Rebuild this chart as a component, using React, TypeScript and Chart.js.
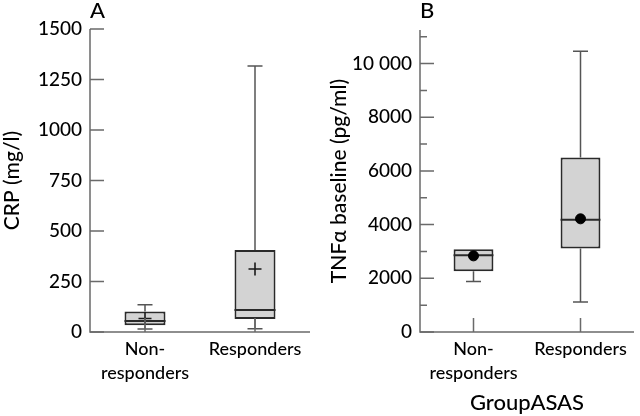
import React, { useEffect, useRef } from 'react';
import { Chart, registerables } from 'chart.js';

Chart.register(...registerables);

const FONT = 'Lato';
const WEIGHT = '500';

const categories = [['Non-', 'responders'], 'Responders'];

// Panel A: CRP (mg/l)
const crpMin = [15, 16];
const crpQ1 = [33, 64];
const crpMedian = [55, 109];
const crpQ3 = [102, 406];
const crpMax = [135, 1317];
const crpMean = [67, 312];
const crpTicks = [0, 250, 500, 750, 1000, 1250, 1500];
const crpMinorTicks: number[] = [];

// Panel B: TNFα baseline (pg/ml)
const tnfMin = [1877, 1119];
const tnfQ1 = [2265, 3109];
const tnfMedian = [2862, 4179];
const tnfQ3 = [3086, 6504];
const tnfMax = [3086, 10460];
const tnfMean = [2836, 4216];
const tnfTicks = [0, 2000, 4000, 6000, 8000, 10000];
const tnfMinorTicks = [1000, 3000, 5000, 7000, 9000, 11000];

type Panel = {
  letter: string;
  min: number[];
  q1: number[];
  median: number[];
  q3: number[];
  max: number[];
  mean: number[];
  ticks: number[];
  minor: number[];
  yMax: number;
  yTitle: string;
  yTitlePad: number;
  xTitle?: string;
  meanStyle: 'cross' | 'circle';
  yWidth: number;
  padTop: number;
  padRight: number;
  fmt: (v: number) => string;
};

const BAR_INDEX = 1;

function decorPlugin(p: Panel) {
  return {
    id: 'boxDecor' + p.letter,
    afterDatasetDraw(chart: any, args: any) {
      if (args.index !== BAR_INDEX) return;
      const { ctx } = chart;
      const xs = chart.scales.x;
      const ys = chart.scales.y;
      const meta = chart.getDatasetMeta(BAR_INDEX);
      ctx.save();
      // whiskers
      ctx.strokeStyle = '#555555';
      ctx.lineWidth = 1.5;
      const cap = 7.5;
      p.min.forEach((_, i) => {
        const cx = xs.getPixelForValue(i);
        const seg = (from: number, to: number) => {
          const a = ys.getPixelForValue(from);
          const b = ys.getPixelForValue(to);
          ctx.beginPath();
          ctx.moveTo(cx, a);
          ctx.lineTo(cx, b);
          ctx.moveTo(cx - cap, b);
          ctx.lineTo(cx + cap, b);
          ctx.stroke();
        };
        if (p.max[i] > p.q3[i]) seg(p.q3[i], p.max[i]);
        if (p.min[i] < p.q1[i]) seg(p.q1[i], p.min[i]);
      });
      // medians
      ctx.strokeStyle = '#2a2a2a';
      ctx.lineWidth = 2;
      p.median.forEach((m, i) => {
        const bar = meta.data[i];
        const y = ys.getPixelForValue(m);
        ctx.beginPath();
        ctx.moveTo(bar.x - bar.width / 2, y);
        ctx.lineTo(bar.x + bar.width / 2, y);
        ctx.stroke();
      });
      ctx.restore();
    },
    afterDatasetsDraw(chart: any) {
      const { ctx, chartArea } = chart;
      const xs = chart.scales.x;
      const ys = chart.scales.y;
      ctx.save();
      ctx.strokeStyle = '#6a6a6a';
      ctx.lineWidth = 1.5;
      const { left, right, top, bottom } = chartArea;
      ctx.beginPath();
      ctx.moveTo(left, top);
      ctx.lineTo(left, bottom);
      ctx.lineTo(right, bottom);
      ctx.stroke();
      ctx.beginPath();
      p.ticks.forEach((v) => {
        const y = ys.getPixelForValue(v);
        ctx.moveTo(left, y);
        ctx.lineTo(left + 14, y);
      });
      p.minor.forEach((v) => {
        const y = ys.getPixelForValue(v);
        ctx.moveTo(left, y);
        ctx.lineTo(left + 7, y);
      });
      p.min.forEach((_, i) => {
        const cx = xs.getPixelForValue(i);
        ctx.moveTo(cx, bottom);
        ctx.lineTo(cx, bottom - 14);
      });
      ctx.stroke();
      ctx.restore();
    },
    afterDraw(chart: any) {
      const { ctx, chartArea } = chart;
      ctx.save();
      ctx.font = `${WEIGHT} 22px ${FONT}`;
      ctx.fillStyle = '#000000';
      ctx.textAlign = 'left';
      ctx.textBaseline = 'alphabetic';
      ctx.fillText(p.letter, chartArea.left, 18);
      ctx.restore();
    },
  };
}

function makeConfig(p: Panel): any {
  const meanDataset: any =
    p.meanStyle === 'cross'
      ? {
          type: 'line',
          data: p.mean,
          showLine: false,
          pointStyle: 'cross',
          pointRadius: 6.5,
          pointHoverRadius: 6.5,
          pointBorderWidth: 1.6,
          pointBorderColor: '#1a1a1a',
          order: 1,
        }
      : {
          type: 'line',
          data: p.mean,
          showLine: false,
          pointStyle: 'circle',
          pointRadius: 5,
          pointHoverRadius: 5,
          pointBorderWidth: 1,
          pointBackgroundColor: '#000000',
          pointBorderColor: '#000000',
          order: 1,
        };
  return {
    type: 'bar',
    data: {
      labels: categories,
      datasets: [
        meanDataset,
        {
          type: 'bar',
          data: p.q1.map((q, i) => [q, p.q3[i]]),
          backgroundColor: '#d3d3d3',
          borderColor: '#2a2a2a',
          borderWidth: 2,
          borderSkipped: false,
          categoryPercentage: 1,
          barPercentage: 41 / 110,
          order: 3,
        },
      ],
    },
    options: {
      responsive: false,
      animation: false,
      events: [],
      layout: { padding: { top: p.padTop, right: p.padRight, left: 0, bottom: 0 } },
      plugins: {
        legend: { display: false },
        tooltip: { enabled: false },
        title: { display: false },
      },
      scales: {
        x: {
          type: 'category',
          offset: true,
          grid: { display: false, drawTicks: false },
          border: { display: false },
          ticks: {
            font: { family: FONT, size: 18, weight: WEIGHT, lineHeight: 1.333 },
            color: '#000000',
            padding: 5,
            maxRotation: 0,
            autoSkip: false,
          },
          title: p.xTitle
            ? {
                display: true,
                text: p.xTitle,
                font: { family: FONT, size: 22, weight: WEIGHT },
                color: '#000000',
                padding: { top: 0, bottom: 0 },
              }
            : { display: false },
          afterFit: (s: any) => {
            s.height = 84;
            s.paddingLeft = 0;
            s.paddingRight = 0;
          },
        },
        y: {
          type: 'linear',
          min: 0,
          max: p.yMax,
          grid: { display: false, drawTicks: false },
          border: { display: false },
          afterBuildTicks: (s: any) => {
            s.ticks = p.ticks.map((v) => ({ value: v }));
          },
          ticks: {
            font: { family: FONT, size: 19, weight: WEIGHT },
            color: '#000000',
            padding: 8,
            callback: (v: any) => p.fmt(Number(v)),
          },
          title: {
            display: true,
            text: p.yTitle,
            font: { family: FONT, size: 21, weight: WEIGHT },
            color: '#000000',
            padding: { top: p.yTitlePad, bottom: 0 },
          },
          afterFit: (s: any) => {
            s.width = p.yWidth;
            s.paddingTop = 0;
            s.paddingBottom = 0;
          },
        },
      },
    },
    plugins: [decorPlugin(p)],
  };
}

const panelA: Panel = {
  letter: 'A',
  min: crpMin,
  q1: crpQ1,
  median: crpMedian,
  q3: crpQ3,
  max: crpMax,
  mean: crpMean,
  ticks: crpTicks,
  minor: crpMinorTicks,
  yMax: 1500,
  yTitle: 'CRP (mg/l)',
  yTitlePad: 0,
  meanStyle: 'cross',
  yWidth: 90,
  padTop: 29,
  padRight: 10,
  fmt: (v) => String(v),
};

const panelB: Panel = {
  letter: 'B',
  min: tnfMin,
  q1: tnfQ1,
  median: tnfMedian,
  q3: tnfQ3,
  max: tnfMax,
  mean: tnfMean,
  ticks: tnfTicks,
  minor: tnfMinorTicks,
  yMax: 11250,
  yTitle: 'TNFα baseline (pg/ml)',
  yTitlePad: 7,
  xTitle: 'GroupASAS',
  meanStyle: 'circle',
  yWidth: 100,
  padTop: 30,
  padRight: 0,
  fmt: (v) => (v >= 10000 ? String(v).replace(/(\d)(?=(\d{3})+$)/g, '$1 ') : String(v)),
};

export default function App() {
  const refA = useRef<HTMLCanvasElement>(null);
  const refB = useRef<HTMLCanvasElement>(null);

  useEffect(() => {
    const a = new Chart(refA.current as HTMLCanvasElement, makeConfig(panelA));
    const b = new Chart(refB.current as HTMLCanvasElement, makeConfig(panelB));
    return () => {
      a.destroy();
      b.destroy();
    };
  }, []);

  return (
    <div
      style={{
        position: 'absolute',
        left: 0,
        top: 0,
        width: 640,
        height: 416,
        display: 'flex',
        background: '#ffffff',
      }}
    >
      <canvas ref={refA} width={320} height={416} style={{ width: 320, height: 416, display: 'block' }} />
      <canvas ref={refB} width={320} height={416} style={{ width: 320, height: 416, display: 'block' }} />
    </div>
  );
}
